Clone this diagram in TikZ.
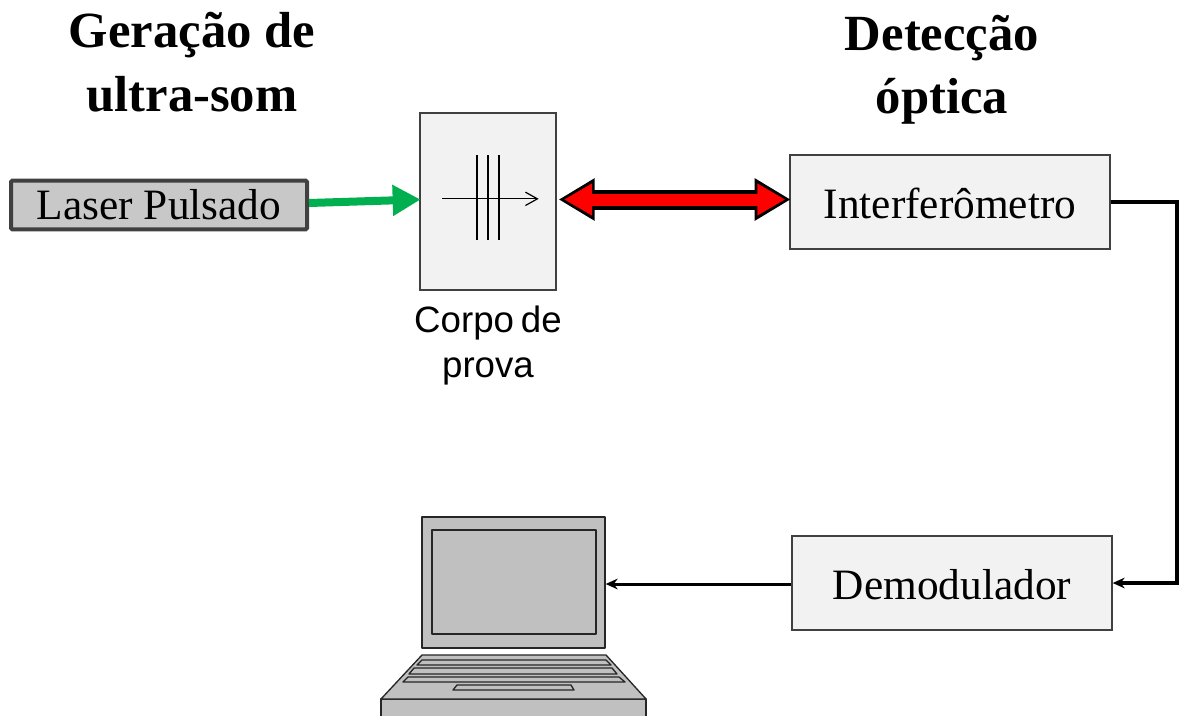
\documentclass[tikz,border=0pt]{standalone}
\usepackage{fontspec}
\setmainfont{Liberation Serif}
\setsansfont{Liberation Sans}
\usetikzlibrary{arrows.meta,positioning}
\definecolor{boxgray}{HTML}{F2F2F2}
\definecolor{lasergray}{HTML}{C8C8C8}
\definecolor{pcgray}{HTML}{C0C0C0}
\definecolor{edgegray}{HTML}{404040}
\definecolor{pulsegreen}{HTML}{00B050}

\begin{document}
\begin{tikzpicture}%
  [x=0.75pt,
   y=-0.75pt,
   >={Stealth[length=9pt,width=8pt]},
   inner sep=0pt,
   titletext/.style={font=\fontsize{38}{47.5}\selectfont\bfseries, align=center},
   block/.style={draw=edgegray, fill=boxgray, line width=1pt,
                 minimum width=240pt, minimum height=70.5pt,
                 text depth=0pt, font=\fontsize{32.5}{38}\selectfont},
   pcpart/.style={draw=black!85, fill=pcgray, line width=1pt, line join=round},
   wire/.style={draw=black, line width=3pt}
  ]
\useasboundingbox (0,0) rectangle (1179,715);

\node[titletext] (geracao)  at (192,62) {Geração de\\ultra-som};
\node[titletext] (deteccao) at (942,70) {Detecção\\óptica};

\node[draw=edgegray, fill=lasergray, line width=3pt, rounded corners=1pt,
      minimum width=222pt, minimum height=36.5pt,
      font=\fontsize{32.5}{38}\selectfont] (laser) at (159,205)
  {\raisebox{-2.5pt}{Laser Pulsado}};
\node[block, minimum width=102pt, minimum height=132.75pt] (corpo) at (488,201.5) {};
\node[block] (interf) at (950,202) {\raisebox{-1.5pt}{Interferômetro}};
\node[block] (demod)  at (952,583) {\raisebox{-1.5pt}{Demodulador}};
\node[below=11pt of corpo, font=\fontsize{27.5}{34}\selectfont\sffamily, align=center]
  (corpolabel) {Corpo\hspace{-0.09em} de\\prova};

% laptop
\node[pcpart, minimum width=137.25pt, minimum height=98.25pt] (screen) at (513.5,582.5) {};
\node[pcpart, minimum width=123pt, minimum height=78pt] (display) at (514,582) {};
\draw[pcpart] (381,716) -- (381,699) -- (646,699) -- (646,716);
\draw[pcpart] (422,655) -- (606,655) -- (646,699) -- (381,699) -- cycle;
\draw[pcpart] (422,660) -- (606,660) -- (611,665) -- (417,665) -- cycle;
\draw[pcpart] (414,668) -- (612,668) -- (617,674) -- (409,674) -- cycle;
\draw[pcpart] (408,677) -- (619,677) -- (625,682) -- (403,682) -- cycle;
\draw[pcpart] (457,685) -- (571,685) -- (574,690) -- (453,690) -- cycle;

% waves in the sample
\draw[line width=0.9pt] (477,155) -- (477,240);
\draw[line width=0.9pt] (488,155) -- (488,240);
\draw[line width=0.9pt] (499,155) -- (499,240);
\draw[line width=0.9pt, -{Straight Barb[length=9pt,width=10pt]}]
  ([xshift=17.25pt,yshift=2pt]corpo.west) -- ([xshift=-13.5pt,yshift=2pt]corpo.east);

\draw[line width=6pt, draw=pulsegreen,
      -{Triangle[length=21pt,width=22pt,fill=pulsegreen,color=pulsegreen]}]
  ([yshift=1.5pt]laser.east) -- ([xshift=1pt,yshift=1.5pt]corpo.west);

\draw[draw=black, line width=15pt,
      {Triangle[length=27pt,width=30pt]}-{Triangle[length=27pt,width=30pt]}]
  ([xshift=1.5pt,yshift=1.5pt]corpo.east) -- ([xshift=1pt,yshift=1.5pt]corpo.east -| interf.west);
\draw[draw=red, line width=9pt,
      {Triangle[length=21pt,width=22.5pt,color=red]}-{Triangle[length=21pt,width=22.5pt,color=red]}]
  ([xshift=5.5pt,yshift=1.5pt]corpo.east) -- ([xshift=-3pt,yshift=1.5pt]corpo.east -| interf.west);

\draw[wire, ->] (interf.east) -- ++(66,0) |- (demod.east);
\draw[wire, line width=2.25pt, ->] ([yshift=-0.75pt]demod.west) -- ([yshift=-0.75pt]demod.west -| screen.east);
\end{tikzpicture}
\end{document}
